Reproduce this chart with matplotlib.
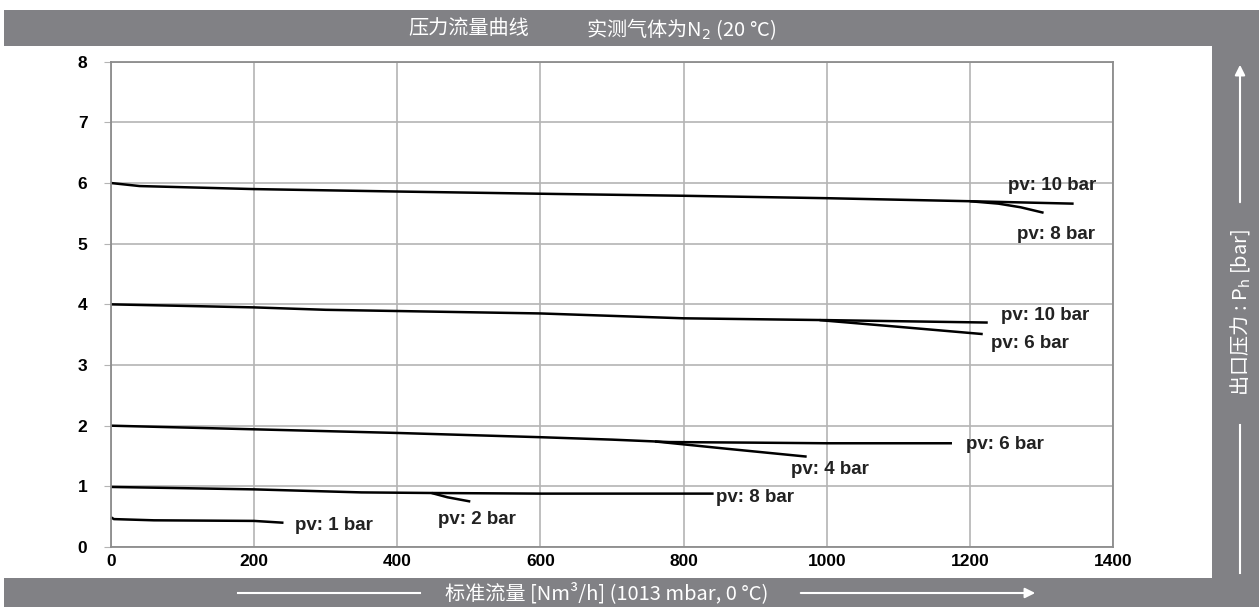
import matplotlib
matplotlib.use("Agg")
import matplotlib.pyplot as plt
from matplotlib.patches import Rectangle, FancyArrowPatch
from matplotlib.lines import Line2D

plt.rcParams['font.family'] = ['Liberation Sans', 'DejaVu Sans']

# ---- data ----
c6_main_x = [0, 40, 200, 400, 620, 800, 1000, 1200, 1345]
c6_main_y = [6.0, 5.95, 5.90, 5.86, 5.82, 5.79, 5.75, 5.70, 5.66]
c6_b_x = [1200, 1240, 1271, 1303]
c6_b_y = [5.70, 5.66, 5.60, 5.51]

c4_main_x = [0, 200, 300, 400, 600, 700, 800, 1000, 1225]
c4_main_y = [4.0, 3.95, 3.91, 3.89, 3.85, 3.81, 3.77, 3.74, 3.70]
c4_b_x = [990, 1100, 1218]
c4_b_y = [3.74, 3.63, 3.51]

c2_main_x = [0, 200, 400, 600, 700, 780, 900, 1000, 1175]
c2_main_y = [2.0, 1.94, 1.88, 1.81, 1.77, 1.73, 1.72, 1.71, 1.71]
c2_b_x = [760, 860, 972]
c2_b_y = [1.74, 1.62, 1.49]

c1_main_x = [0, 200, 350, 450, 600, 842]
c1_main_y = [0.99, 0.95, 0.90, 0.89, 0.88, 0.88]
c1_b_x = [448, 470, 502]
c1_b_y = [0.89, 0.82, 0.75]

c05_x = [0, 4, 60, 200, 241]
c05_y = [0.49, 0.46, 0.44, 0.43, 0.40]

labels = [
    ("pv: 10 bar", 1253, 5.96),
    ("pv: 8 bar", 1266, 5.15),
    ("pv: 10 bar", 1243, 3.82),
    ("pv: 6 bar", 1229, 3.35),
    ("pv: 6 bar", 1195, 1.69),
    ("pv: 4 bar", 950, 1.27),
    ("pv: 8 bar", 846, 0.82),
    ("pv: 2 bar", 457, 0.46),
    ("pv: 1 bar", 257, 0.36),
]

x_ticks = [0, 200, 400, 600, 800, 1000, 1200, 1400]
y_ticks = [0, 1, 2, 3, 4, 5, 6, 7, 8]

title_left = "压力流量曲线"
title_right = "实测气体为N$_2$ (20 °C)"
x_title = "标准流量 [Nm³/h] (1013 mbar, 0 °C)"
y_title = "出口压力 : P$_\\mathrm{h}$ [bar]"

# ---- figure ----
W, H = 1259, 607
fig = plt.figure(figsize=(W / 100, H / 100), dpi=100)
fig.patch.set_facecolor("white")
GRAY = "#818185"

def fx(px):
    return px / W

def fy(py):
    return 1 - py / H

fig.add_artist(Rectangle((fx(4), fy(46)), fx(1259) - fx(4), fy(10) - fy(46),
                         transform=fig.transFigure, facecolor=GRAY, edgecolor="none"))
fig.add_artist(Rectangle((fx(1212), fy(607)), fx(1259) - fx(1212), fy(46) - fy(607),
                         transform=fig.transFigure, facecolor=GRAY, edgecolor="none"))
fig.add_artist(Rectangle((fx(4), fy(607)), fx(1259) - fx(4), fy(578) - fy(607),
                         transform=fig.transFigure, facecolor=GRAY, edgecolor="none"))

cjk = ['Noto Sans CJK SC', 'DejaVu Sans']
fig.text(fx(469), fy(29), title_left, color="white", fontsize=14.5, family=cjk,
         ha="center", va="center")
fig.text(fx(586), fy(29), title_right, color="white", fontsize=14.5, family=cjk,
         ha="left", va="center")
fig.text(fx(607), fy(593), x_title, color="white", fontsize=14.5, family=cjk,
         ha="center", va="center")
fig.add_artist(Line2D([fx(238), fx(420)], [fy(593), fy(593)], transform=fig.transFigure,
                      color="white", lw=1.5))
fig.add_artist(FancyArrowPatch((fx(798), fy(593)), (fx(1038), fy(593)),
                               transform=fig.transFigure, color="white", lw=1.5,
                               arrowstyle="-|>,head_length=6,head_width=3"))
fig.text(fx(1240), fy(312), y_title, color="white", fontsize=14.5, family=cjk,
         ha="center", va="center", rotation=90)
fig.add_artist(FancyArrowPatch((fx(1240), fy(205)), (fx(1240), fy(62)),
                               transform=fig.transFigure, color="white", lw=1.5,
                               arrowstyle="-|>,head_length=6,head_width=3"))
fig.add_artist(Line2D([fx(1240), fx(1240)], [fy(425), fy(573)], transform=fig.transFigure,
                      color="white", lw=1.5))

ax = fig.add_axes([fx(111), fy(547), fx(1113) - fx(111), fy(61.7) - fy(547)])
ax.set_xlim(0, 1400)
ax.set_ylim(0, 8)
ax.set_xticks(x_ticks)
ax.set_yticks(y_ticks)
ax.set_xticklabels([str(v) for v in x_ticks], fontsize=12.5, fontweight="bold")
ax.set_yticklabels([str(v) for v in y_ticks], fontsize=12.5, fontweight="bold")
ax.grid(True, color="#b4b4b4", lw=1.2)
ax.set_axisbelow(True)
for s in ax.spines.values():
    s.set_color("#8c8c8c")
    s.set_linewidth(1.3)
ax.tick_params(axis="y", length=5, color="#b4b4b4", pad=12)
ax.tick_params(axis="x", length=0, pad=5)

series = [
    (c6_main_x, c6_main_y), (c6_b_x, c6_b_y),
    (c4_main_x, c4_main_y), (c4_b_x, c4_b_y),
    (c2_main_x, c2_main_y), (c2_b_x, c2_b_y),
    (c1_main_x, c1_main_y), (c1_b_x, c1_b_y),
    (c05_x, c05_y),
]
for xs, ys in series:
    ax.plot(xs, ys, color="black", lw=1.8, solid_capstyle="butt", clip_on=False)

for txt, x, y in labels:
    ax.text(x, y, txt, fontsize=13.5, fontweight="bold", color="#222222",
            ha="left", va="center", clip_on=False)

fig.savefig("out.png", dpi=100)
